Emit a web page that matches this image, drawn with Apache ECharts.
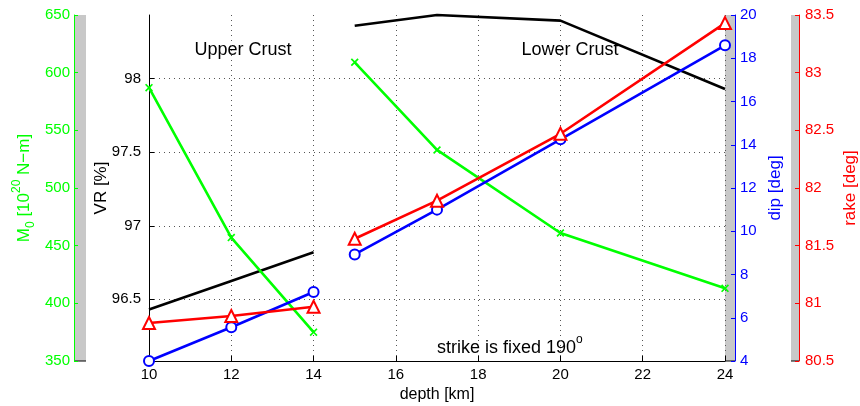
<!DOCTYPE html>
<html>
<head>
<meta charset="utf-8">
<script src="https://cdn.jsdelivr.net/npm/echarts@6/dist/echarts.min.js"></script>
<style>
  html, body { margin: 0; padding: 0; background: #fff; }
  #chart { width: 860px; height: 406px; }
</style>
</head>
<body>
<div id="chart"></div>
<script>
// Depth sections (km); the two crust segments are drawn as separate lines
const depthUpper = [10, 12, 14];
const depthLower = [15, 17, 20, 24];

// Variance reduction [%]
const vrUpper = [96.43, 96.625, 96.82];
const vrLower = [98.36, 98.433, 98.395, 97.93];
// Moment [10^20 N-m]
const m0Upper = [587, 457, 375];
const m0Lower = [609, 533, 461, 413];
// dip [deg]
const dipUpper = [4.0, 5.56, 7.19];
const dipLower = [8.93, 11.0, 14.25, 18.6];
// rake [deg]
const rakeUpper = [80.83, 80.89, 80.97];
const rakeLower = [81.56, 81.89, 82.47, 83.43];

const vrTicks = [96.5, 97, 97.5, 98];

const FONT = '"Liberation Sans", Arial, Helvetica, sans-serif';
const GREEN = '#00ff00', BLUE = '#0000ff', RED = '#ff0000', GRAY = '#c8c8c8';

const pairs = (xs, ys) => xs.map((x, i) => [x, ys[i]]);

const CROSS = 'path://M0,1.5L1.5,0L5,3.5L8.5,0L10,1.5L6.5,5L10,8.5L8.5,10L5,6.5L1.5,10L0,8.5L3.5,5Z';

function lineSeries(data, yIdx, color, symbol, size) {
  return {
    type: 'line',
    yAxisIndex: yIdx,
    data,
    clip: false,
    symbol: symbol || 'none',
    symbolSize: size || 0,
    showSymbol: !!symbol,
    lineStyle: { color, width: 2.6 },
    itemStyle: symbol === CROSS
      ? { color, borderWidth: 0 }
      : { color, borderColor: color, borderWidth: 2.4 },
  };
}

function sideAxis(opts) {
  return Object.assign({
    type: 'value',
    nameLocation: 'middle',
    nameRotate: 90,
    nameMoveOverlap: false,
    axisLine: { show: true, lineStyle: { color: opts.color, width: 1 } },
    axisTick: { show: true, inside: true, length: 4, lineStyle: { color: opts.color } },
    axisLabel: { color: opts.color, fontSize: 15, fontFamily: FONT },
    splitLine: { show: false },
    nameTextStyle: { color: opts.color, fontSize: 17, fontFamily: FONT },
  }, opts.extra);
}

const chart = echarts.init(document.getElementById('chart'), null, { renderer: 'canvas' });

chart.setOption({
  animation: false,
  backgroundColor: '#fff',
  textStyle: { fontFamily: FONT },
  grid: { left: 149, right: 135, top: 15, bottom: 45, containLabel: false, outerBoundsMode: 'none' },
  xAxis: {
    type: 'value', min: 10, max: 24, interval: 2,
    nameMoveOverlap: false,
    axisLine: { lineStyle: { color: '#000', width: 1 } },
    axisTick: { inside: true, length: 5, lineStyle: { color: '#000' } },
    axisLabel: { color: '#000', fontSize: 15, margin: 6 },
    splitLine: { show: true, lineStyle: { type: [1, 4], color: '#555', width: 1 } },
    name: 'depth [km]', nameLocation: 'middle', nameGap: 26,
    nameTextStyle: { color: '#000', fontSize: 16 },
  },
  yAxis: [
    sideAxis({ color: '#000', extra: {
      position: 'left', offset: 0, min: 96.0805, max: 98.433,
      name: 'VR [%]', nameGap: 39,
      axisLabel: { color: '#000', fontSize: 15, margin: 8, customValues: vrTicks },
      axisTick: { show: true, inside: true, length: 5, lineStyle: { color: '#000' }, customValues: vrTicks },
      splitLine: { show: true, lineStyle: { type: [1, 4], color: '#555', width: 1 } },
    } }),
    sideAxis({ color: GREEN, extra: {
      position: 'left', offset: 75, min: 350, max: 650, interval: 50,
      name: '{t|M}{sub|0}{t| [10}{sup|20}{t| N−m]}', nameGap: 41,
      axisLabel: { color: GREEN, fontSize: 15, margin: 4 },
      nameTextStyle: {
        color: GREEN, fontSize: 17,
        rich: {
          t: { color: GREEN, fontSize: 17, fontFamily: FONT, verticalAlign: 'bottom', lineHeight: 20 },
          sub: { color: GREEN, fontSize: 12, fontFamily: FONT, verticalAlign: 'bottom', lineHeight: 14, padding: [0, 0, -4, 0] },
          sup: { color: GREEN, fontSize: 12, fontFamily: FONT, verticalAlign: 'bottom', lineHeight: 12, padding: [0, 0, 10, 0] },
        },
      },
    } }),
    sideAxis({ color: BLUE, extra: {
      position: 'right', offset: 10, min: 4, max: 20, interval: 2,
      name: 'dip [deg]', nameGap: 32,
      axisLabel: { color: BLUE, fontSize: 15, margin: 5 },
    } }),
    sideAxis({ color: RED, extra: {
      position: 'right', offset: 74, min: 80.5, max: 83.5, interval: 0.5,
      name: 'rake [deg]', nameGap: 43,
      axisLabel: { color: RED, fontSize: 15, margin: 6 },
    } }),
  ],
  graphic: [
    // grey strips that sit behind the detached axes
    { type: 'rect', z: -10, shape: { x: 74, y: 15, width: 12, height: 346 }, style: { fill: GRAY } },
    { type: 'rect', z: -10, shape: { x: 725, y: 15, width: 10, height: 346 }, style: { fill: GRAY } },
    { type: 'rect', z: -10, shape: { x: 791, y: 15, width: 8, height: 346 }, style: { fill: GRAY } },
    { type: 'line', shape: { x1: 74, y1: 361, x2: 86, y2: 361 }, style: { stroke: '#000', lineWidth: 1 } },
    { type: 'line', shape: { x1: 725, y1: 361, x2: 735, y2: 361 }, style: { stroke: '#000', lineWidth: 1 } },
    { type: 'line', shape: { x1: 791, y1: 361, x2: 799, y2: 361 }, style: { stroke: '#000', lineWidth: 1 } },
    { type: 'text', x: 243, y: 50, style: { text: 'Upper Crust', font: '18px ' + FONT, fill: '#000', align: 'center', verticalAlign: 'middle' } },
    { type: 'text', x: 570, y: 50, style: { text: 'Lower Crust', font: '18px ' + FONT, fill: '#000', align: 'center', verticalAlign: 'middle' } },
    { type: 'text', x: 437, y: 357, style: {
      text: '{t|strike is fixed 190}{sup|o}', fill: '#000', align: 'left', verticalAlign: 'bottom',
      rich: {
        t: { fontSize: 18, fontFamily: FONT, fill: '#000', verticalAlign: 'bottom', lineHeight: 20 },
        sup: { fontSize: 12, fontFamily: FONT, fill: '#000', verticalAlign: 'bottom', lineHeight: 12, padding: [0, 0, 11, 0] },
      },
    } },
  ],
  series: [
    lineSeries(pairs(depthUpper, vrUpper), 0, '#000'),
    lineSeries(pairs(depthLower, vrLower), 0, '#000'),
    lineSeries(pairs(depthUpper, m0Upper), 1, GREEN, CROSS, 8),
    lineSeries(pairs(depthLower, m0Lower), 1, GREEN, CROSS, 8),
    lineSeries(pairs(depthUpper, dipUpper), 2, BLUE, 'emptyCircle', 10),
    lineSeries(pairs(depthLower, dipLower), 2, BLUE, 'emptyCircle', 10),
    lineSeries(pairs(depthUpper, rakeUpper), 3, RED, 'emptyTriangle', 12),
    lineSeries(pairs(depthLower, rakeLower), 3, RED, 'emptyTriangle', 12),
  ],
});
</script>
</body>
</html>
